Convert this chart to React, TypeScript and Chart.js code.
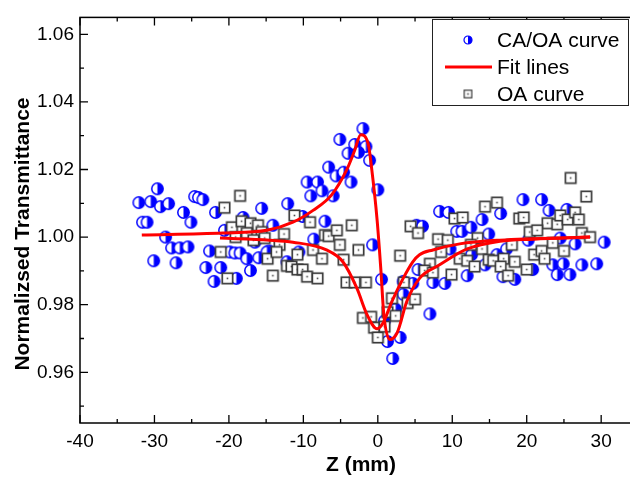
import React, { useEffect, useRef } from "react";
import { Chart, registerables } from "chart.js";
Chart.register(...registerables);

const FONT = "'Liberation Sans', Arial, Helvetica, sans-serif";

// CA/OA curve (half-filled blue circles)
const caZ = [-32.1, -30.5, -29.6, -29.2, -28.1, -31.6, -31.0, -26.1, -25.1, -24.6, -24.1, -23.5, -28.5, -27.7, -26.6, -25.5, -30.1, -27.1, -22.6, -23.1, -21.1, -21.8, -22.0, -19.0, -18.1, -15.6, -20.6, -19.9, -19.2, -18.5, -17.6, -16.0, -14.6, -17.1, -12.1, -14.1, -12.2, -16.5, -2.0, -5.1, -3.1, -1.6, -4.0, -2.6, -1.1, -6.6, -5.6, -4.6, -3.6, -9.5, -8.1, -9.0, -7.5, -6.0, -10.1, -7.1, 0.0, -8.6, -0.7, -10.6, -14.9, 0.5, 3.4, 2.4, 0.9, 3.0, 1.3, 2.0, 5.2, 4.7, 5.4, 19.5, 22.0, 23.0, 25.4, 8.3, 9.5, 16.5, 6.0, 10.6, 11.3, 12.5, 14.0, 14.9, 20.2, 24.5, 26.5, 9.7, 12.6, 16.0, 17.3, 7.4, 9.0, 12.0, 14.4, 16.8, 18.4, 20.8, 23.5, 24.9, 27.4, 24.1, 25.8, 7.0, 3.4, 29.4, 30.4];
const caT = [1.0102, 1.0105, 1.0143, 1.009, 1.0099, 1.0044, 1.0044, 1.0073, 1.0044, 1.012, 1.0117, 1.0111, 1.0, 0.9968, 0.9968, 0.9971, 0.993, 0.9924, 0.9959, 0.991, 0.991, 1.0073, 0.9869, 0.9878, 1.0058, 1.0085, 1.002, 0.9956, 0.9953, 0.9953, 0.9936, 0.9939, 0.9959, 0.9901, 1.0099, 1.0035, 0.9927, 0.9985, 1.0321, 1.0289, 1.0274, 1.0268, 1.0248, 1.0251, 1.0227, 1.0207, 1.0181, 1.0192, 1.0163, 1.0163, 1.0163, 1.0122, 1.0137, 1.0122, 1.0061, 1.0047, 1.014, 0.9994, 0.9977, 0.9956, 0.9956, 0.9875, 0.9831, 0.9787, 0.9752, 0.9703, 0.9691, 0.9641, 1.0035, 0.9863, 0.9904, 1.0111, 1.0111, 1.0079, 1.0082, 1.0076, 1.0073, 1.007, 1.0032, 1.0017, 1.0017, 1.0029, 1.0052, 1.0009, 0.9991, 0.9997, 0.998, 0.9965, 0.9948, 0.9948, 0.9965, 0.9866, 0.9863, 0.9886, 0.9918, 0.9883, 0.9875, 0.9904, 0.9918, 0.9921, 0.9918, 0.9889, 0.9889, 0.9773, 0.9869, 0.9921, 0.9985];

// OA curve (open squares)
const oaZ = [-18.5, -20.6, -19.6, -18.3, -17.1, -16.1, -17.6, -19.1, -15.6, -16.7, -15.2, -21.1, -20.2, -14.8, -14.1, -12.6, -11.2, -13.2, -13.6, -12.2, -11.6, -10.8, -10.8, -9.1, -10.1, -9.5, -8.1, -8.7, -7.5, -7.1, -6.6, -5.5, -5.1, -4.6, -3.5, -2.6, -4.2, -3.1, -1.6, -2.0, -0.9, -0.5, 0.0, 0.9, 1.3, 2.4, 1.9, 3.0, 3.5, 4.0, 5.0, 4.4, 5.4, 10.3, 11.4, 8.1, 9.4, 13.4, 14.4, 16.0, 8.5, 11.0, 12.0, 14.0, 13.0, 7.0, 6.3, 7.4, 9.9, 25.9, 28.0, 19.0, 19.6, 22.8, 24.1, 24.5, 25.5, 26.5, 27.0, 20.4, 21.4, 18.0, 23.5, 27.4, 28.5, 12.5, 14.9, 15.5, 16.9, 18.4, 20.0, 16.5, 17.5, 21.0, 22.0, 22.4, 25.0];
const oaT = [1.0122, 1.0087, 1.0029, 1.0047, 1.0041, 1.0035, 1.0012, 1.0, 1.0015, 0.9991, 0.9997, 0.9956, 0.9878, 0.9936, 0.9886, 1.0009, 1.0064, 0.9977, 0.9956, 0.9915, 0.9913, 0.9948, 0.9904, 1.0044, 0.9904, 0.9883, 0.9878, 0.9962, 0.9936, 1.0006, 1.0003, 1.002, 0.9977, 0.9933, 1.0035, 0.9962, 0.9866, 0.9866, 0.9866, 0.9761, 0.9764, 0.9732, 0.9703, 0.9735, 0.9778, 0.9767, 0.9819, 0.9945, 0.9866, 0.9805, 0.9816, 1.0032, 1.0012, 1.0055, 1.0058, 0.9994, 0.9991, 0.9997, 1.009, 1.0102, 0.9956, 0.9936, 0.993, 0.9965, 0.9913, 0.9921, 0.9901, 0.9895, 0.9889, 1.0175, 1.012, 1.0055, 1.0058, 1.0041, 1.0038, 1.0064, 1.0052, 1.0073, 1.0052, 1.0015, 1.002, 0.9977, 0.9983, 1.0012, 1.0, 0.9977, 0.9933, 0.993, 0.9936, 0.9927, 0.9904, 0.9913, 0.9886, 0.9948, 0.9959, 0.9936, 0.9959];

// Fit lines
const caFitZ = [-31.7, -20.8, -14.9, -11.4, -8.7, -6.2, -4.2, -3.1, -2.3, -1.3, -0.8, -0.1, 0.4, 0.8, 1.6, 2.6, 3.9, 5.6, 8.3, 12.0, 16.4, 20.8, 28.5];
const caFitT = [1.0006, 1.0012, 1.002, 1.0044, 1.0079, 1.0125, 1.0198, 1.0257, 1.0303, 1.0277, 1.0198, 1.0052, 0.9907, 0.9773, 0.9697, 0.9717, 0.981, 0.9878, 0.9918, 0.9965, 0.9988, 0.9994, 1.0];
const oaFitZ = [-21.2, -14.5, -11.4, -6.9, -4.7, -2.8, -1.5, -0.1, 0.7, 1.9, 3.4, 4.7, 5.6, 7.4, 11.0, 16.4, 28.5];
const oaFitT = [0.9997, 0.9991, 0.9985, 0.9962, 0.9927, 0.9848, 0.9773, 0.9729, 0.9746, 0.981, 0.9878, 0.9927, 0.9948, 0.9962, 0.998, 0.9991, 1.0];

const xTicks = [-40, -30, -20, -10, 0, 10, 20, 30];
const xMinor = [-35, -25, -15, -5, 5, 15, 25, 35];
const yTicks = [0.96, 0.98, 1.0, 1.02, 1.04, 1.06];
const yMinor = [0.95, 0.97, 0.99, 1.01, 1.03, 1.05];
const xRange = [-40, 35];
const yRange = [0.945, 1.065];
const legendLabels = ["CA/OA curve", "Fit lines", "OA curve"];
const xTitle = "Z (mm)";
const yTitle = "Normalizsed Transmittance";

function makeCircle(r: number, lw: number) {
  const s = Math.ceil(2 * r + lw + 2);
  const c = document.createElement("canvas");
  c.width = s;
  c.height = s;
  const g = c.getContext("2d")!;
  const m = s / 2;
  g.fillStyle = "#ffffff";
  g.beginPath();
  g.arc(m, m, r, 0, Math.PI * 2);
  g.fill();
  g.fillStyle = "#0000ff";
  g.beginPath();
  g.arc(m, m, r, -Math.PI / 2, Math.PI / 2);
  g.closePath();
  g.fill();
  g.strokeStyle = "#0000ff";
  g.lineWidth = lw;
  g.beginPath();
  g.arc(m, m, r, 0, Math.PI * 2);
  g.stroke();
  return c;
}

function makeSquare(h: number, lw: number) {
  const s = Math.ceil(2 * h + lw + 2);
  const c = document.createElement("canvas");
  c.width = s;
  c.height = s;
  const g = c.getContext("2d")!;
  const m = s / 2;
  g.fillStyle = "#ffffff";
  g.fillRect(m - h, m - h, 2 * h, 2 * h);
  g.strokeStyle = "#3a3a3a";
  g.lineWidth = lw;
  g.strokeRect(m - h, m - h, 2 * h, 2 * h);
  g.fillStyle = "#444444";
  g.fillRect(m - 0.8, m - 0.8, 1.6, 1.6);
  return c;
}

export default function App() {
  const ref = useRef<HTMLCanvasElement | null>(null);
  useEffect(() => {
    if (!ref.current) return;
    const circ = makeCircle(5.7, 1.5);
    const sq = makeSquare(5.2, 1.7);
    const circL = makeCircle(4, 1.2);
    const sqL = makeSquare(3.8, 1.2);

    const deco = {
      id: "deco",
      afterDatasetsDraw(chart: any) {
        const { ctx, chartArea, scales } = chart;
        const { left, right, top, bottom } = chartArea;
        const xs = scales.x;
        const ys = scales.y;
        ctx.save();
        ctx.strokeStyle = "#000";
        ctx.lineWidth = 1.5;
        ctx.strokeRect(left, top, right - left, bottom - top);
        ctx.lineWidth = 1.3;
        ctx.beginPath();
        const tx = (v: number, L: number) => {
          const p = xs.getPixelForValue(v);
          ctx.moveTo(p, bottom);
          ctx.lineTo(p, bottom - L);
          ctx.moveTo(p, top);
          ctx.lineTo(p, top + L);
        };
        const ty = (v: number, L: number) => {
          const p = ys.getPixelForValue(v);
          ctx.moveTo(left, p);
          ctx.lineTo(left + L, p);
          ctx.moveTo(right, p);
          ctx.lineTo(right - L, p);
        };
        xTicks.forEach((v) => tx(v, 8));
        xMinor.forEach((v) => tx(v, 4));
        yTicks.forEach((v) => ty(v, 8));
        yMinor.forEach((v) => ty(v, 4));
        ctx.stroke();

        // axis titles
        ctx.fillStyle = "#000";
        ctx.font = "bold 21px " + FONT;
        ctx.textAlign = "center";
        ctx.textBaseline = "middle";
        ctx.fillText(xTitle, 361, 465);
        ctx.save();
        ctx.translate(23, 234);
        ctx.rotate(-Math.PI / 2);
        ctx.fillText(yTitle, 0, 0);
        ctx.restore();

        // legend
        const bx = 432, by = 19, bw = 196, bh = 86;
        ctx.fillStyle = "#fff";
        ctx.fillRect(bx, by, bw, bh);
        ctx.strokeStyle = "#222";
        ctx.lineWidth = 1;
        ctx.strokeRect(bx + 0.5, by + 0.5, bw, bh);
        const rows = [40, 67, 94];
        ctx.drawImage(circL, 468 - circL.width / 2, rows[0] - circL.height / 2);
        ctx.strokeStyle = "#ff0000";
        ctx.lineWidth = 3;
        ctx.beginPath();
        ctx.moveTo(445, rows[1]);
        ctx.lineTo(492, rows[1]);
        ctx.stroke();
        ctx.drawImage(sqL, 468 - sqL.width / 2, rows[2] - sqL.height / 2);
        ctx.fillStyle = "#000";
        ctx.font = "21px " + FONT;
        ctx.textAlign = "left";
        ctx.textBaseline = "middle";
        legendLabels.forEach((t, i) => ctx.fillText(t, 497, rows[i] + 1));
        ctx.restore();
      },
    };

    const chart = new Chart(ref.current, {
      type: "scatter",
      data: {
        datasets: [
          {
            label: legendLabels[1],
            data: caFitZ.map((z, i) => ({ x: z, y: caFitT[i] })),
            showLine: true,
            borderColor: "#ff0000",
            borderWidth: 3,
            pointRadius: 0,
            cubicInterpolationMode: "monotone",
            order: 0,
          },
          {
            label: legendLabels[1] + " OA",
            data: oaFitZ.map((z, i) => ({ x: z, y: oaFitT[i] })),
            showLine: true,
            borderColor: "#ff0000",
            borderWidth: 3,
            pointRadius: 0,
            cubicInterpolationMode: "monotone",
            order: 0,
          },
          {
            label: legendLabels[2],
            data: oaZ.map((z, i) => ({ x: z, y: oaT[i] })),
            pointStyle: sq as any,
            pointRadius: 5,
            order: 1,
          },
          {
            label: legendLabels[0],
            data: caZ.map((z, i) => ({ x: z, y: caT[i] })),
            pointStyle: circ as any,
            pointRadius: 5,
            order: 2,
          },
        ],
      } as any,
      options: {
        animation: false,
        responsive: false,
        maintainAspectRatio: false,
        devicePixelRatio: 1,
        layout: { padding: { left: 0, top: 12, right: 61.6, bottom: 0 } },
        plugins: { legend: { display: false }, tooltip: { enabled: false }, title: { display: false } },
        scales: {
          x: {
            type: "linear",
            min: xRange[0],
            max: xRange[1],
            afterBuildTicks: (s: any) => {
              s.ticks = xTicks.map((v) => ({ value: v }));
            },
            afterFit: (s: any) => {
              s.height = 54;
            },
            grid: { display: false, drawTicks: false },
            border: { display: false },
            ticks: {
              color: "#000",
              font: { family: FONT, size: 19 },
              padding: 7,
              maxRotation: 0,
              autoSkip: false,
              callback: (v: any) => String(v),
            },
          },
          y: {
            type: "linear",
            min: yRange[0],
            max: yRange[1],
            afterBuildTicks: (s: any) => {
              s.ticks = yTicks.map((v) => ({ value: v }));
            },
            afterFit: (s: any) => {
              s.width = 80;
            },
            grid: { display: false, drawTicks: false },
            border: { display: false },
            ticks: {
              color: "#000",
              font: { family: FONT, size: 19 },
              padding: 6,
              autoSkip: false,
              callback: (v: any) => Number(v).toFixed(2),
            },
          },
        },
      } as any,
      plugins: [deco],
    });
    return () => chart.destroy();
  }, []);

  return (
    <div style={{ position: "fixed", left: 0, top: 0, width: 700, height: 477, background: "#fff" }}>
      <canvas ref={ref} width={700} height={477} style={{ width: 700, height: 477, display: "block" }} />
    </div>
  );
}
